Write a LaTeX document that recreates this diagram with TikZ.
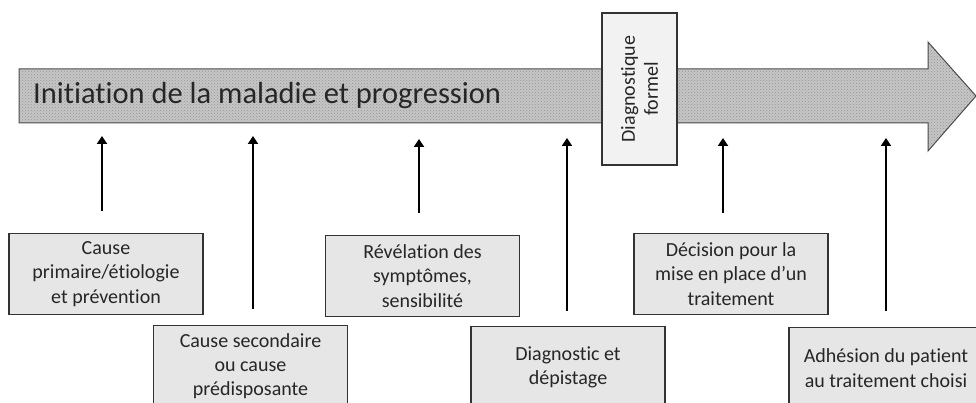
\documentclass[tikz,border=0pt]{standalone}
\usepackage{fontspec}
\setmainfont[Ligatures=NoCommon]{Carlito}
\usetikzlibrary{arrows.meta,patterns}
\definecolor{boxfill}{HTML}{E6E6E6}
\definecolor{dfill}{HTML}{F2F2F2}
\definecolor{edge}{HTML}{333333}
\begin{document}
\begin{tikzpicture}[x=1pt,y=-1pt,
  infobox/.style={draw=edge, line width=1.2pt, fill=boxfill, minimum width=194pt,
    minimum height=81pt, inner sep=0pt, align=center, anchor=north,
    font=\fontsize{20}{24.4}\selectfont, text=black!85},
  uparrow/.style={line width=2.6pt, -{Triangle[width=10pt,length=8pt]}}]
\clip (0,0) rectangle (976,403);
\useasboundingbox (0,0) rectangle (976,403);
% big arrow
\path[fill=gray!45] (19,69) -- (928,69) -- (928,42) -- (976,96) -- (928,151) -- (928,123) -- (19,123) -- cycle;
\path[pattern=crosshatch dots, pattern color=gray!85] (19,69) -- (928,69) -- (928,42) -- (976,96) -- (928,151) -- (928,123) -- (19,123) -- cycle;
\draw[draw=gray!60!black, line width=1pt] (19,69) -- (928,69) -- (928,42) -- (976,96) -- (928,151) -- (928,123) -- (19,123) -- cycle;
\node[anchor=west, inner sep=0pt, font=\fontsize{30.5}{36}\selectfont, text=black!85] (title) at (33,96) {Initiation de la maladie et progression};
% formal diagnosis box
\node[draw=edge, line width=1.2pt, fill=dfill, minimum width=75pt, minimum height=152pt, inner sep=0pt] (formel) at (639.5,89) {};
\node[rotate=90, align=center, inner sep=0pt, font=\fontsize{20}{23}\selectfont, text=black!85] (formeltxt) at (formel.center) {Diagnostique\\formel};
% boxes
\node[infobox] (b1) at (106,233) {Cause\\primaire/étiologie\\et prévention};
\node[infobox] (b2) at (250.5,325) {Cause secondaire\\ou cause\\prédisposante};
\node[infobox] (b3) at (422.5,235) {Révélation des\\symptômes,\\sensibilité};
\node[infobox] (b4) at (568,326) {Diagnostic et\\dépistage};
\node[infobox] (b5) at (731,233) {Décision pour la\\mise en place d’un\\traitement};
\node[infobox] (b6) at (886,327) {Adhésion du patient\\au traitement choisi};
% arrow end points
\coordinate (s1) at (102,211); \coordinate (e1) at (102,136);
\coordinate (s2) at (253,309); \coordinate (e2) at (253,136);
\coordinate (s3) at (419,213); \coordinate (e3) at (419,139);
\coordinate (s4) at (567,311); \coordinate (e4) at (567,138);
\coordinate (s5) at (723,213); \coordinate (e5) at (723,138);
\coordinate (s6) at (886,311); \coordinate (e6) at (886,138);
\foreach \i in {1,...,6} { \draw[uparrow] (s\i) -- (e\i); }
\end{tikzpicture}
\end{document}
